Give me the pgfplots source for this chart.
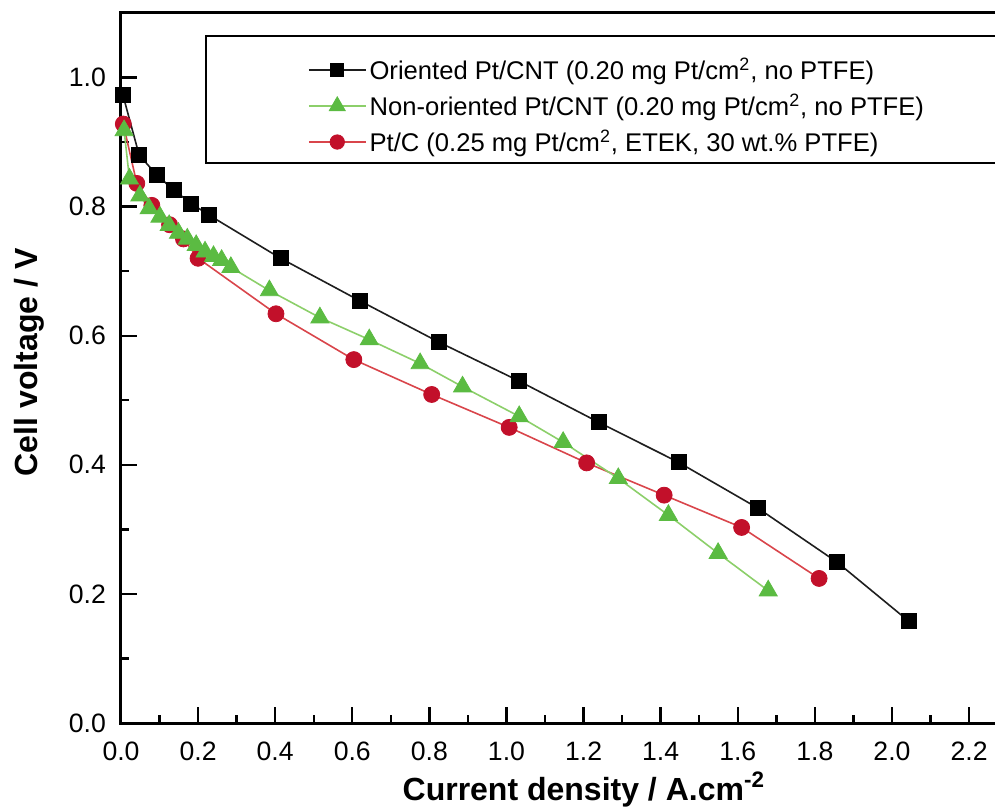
\documentclass[border=0pt]{standalone}
\usepackage{fontspec}
\setmainfont{Liberation Sans}
\usepackage{pgfplots}
\pgfplotsset{compat=1.18}
\definecolor{lineBlack}{HTML}{1E1E1E}
\definecolor{triGreen}{HTML}{5BBB42}
\definecolor{lineGreen}{HTML}{8CCF6A}
\definecolor{dotRed}{HTML}{C2102A}
\definecolor{lineRed}{HTML}{D9454B}

\begin{document}
\begin{tikzpicture}
% the reference is cropped on the right and at the bottom
\path[use as bounding box] (-60.5pt,-43.5pt) rectangle (437pt,361.5pt);
\clip (-60.5pt,-43.5pt) rectangle (437pt,361.5pt);
\begin{axis}[
  scale only axis, width=443.3pt, height=355pt,
  xmin=0, xmax=2.3, ymin=0, ymax=1.1,
  xtick={0,0.2,...,2.2}, ytick={0,0.2,...,1.0},
  minor x tick num=1, minor y tick num=1,
  xtick pos=bottom, ytick pos=left,
  tick align=inside,
  major tick length=8pt, minor tick length=4pt,
  tick style={black, line width=1.2pt},
  axis line style={black, line width=1.5pt},
  tick label style={font=\fontsize{13.3}{15}\selectfont},
  /pgf/number format/.cd, fixed, fixed zerofill, precision=1, assume math mode=true, /pgfplots/.cd,
  xticklabel style={yshift=-6pt},
  yticklabel style={xshift=-4pt},
  xlabel={Current density / A.cm\textsuperscript{-2}},
  ylabel={Cell voltage / V},
  xlabel style={font=\fontsize{16}{19}\selectfont\bfseries, at={(axis description cs:0.522,-0.1085)}, anchor=base},
  ylabel style={font=\fontsize{16}{19}\selectfont\bfseries, at={(axis description cs:-0.1032,0.508)}, anchor=center},
  clip=false,
  legend image code/.code={\draw[mark repeat=2,mark phase=2,#1] plot coordinates {(0pt,4.5pt) (14.25pt,4.5pt) (28.5pt,4.5pt)};},
  legend style={at={(axis description cs:0.0947,0.969)}, anchor=north west,
    draw=black, line width=1pt, fill=white,
    inner xsep=51pt, inner ysep=0pt,
    font=\fontsize{12.8}{15}\selectfont,
    cells={anchor=base west},
    nodes={inner xsep=1.5pt, inner ysep=3pt, text height=9pt, text depth=3pt}},
]
\addlegendimage{lineBlack, line width=0.8pt, mark=square*, mark size=3.3pt, mark options={fill=black, draw=black, line width=0.4pt}}
\addlegendentry[text height=18.5pt]{Oriented Pt/CNT (0.20 mg Pt/cm\textsuperscript{2}, no PTFE)}
\addlegendimage{lineGreen, line width=0.8pt, mark=triangle*, mark size=4.6pt, mark options={fill=triGreen, draw=triGreen, line width=0.4pt}}
\addlegendentry{Non-oriented Pt/CNT (0.20 mg Pt/cm\textsuperscript{2}, no PTFE)}
\addlegendimage{lineRed, line width=0.8pt, mark=*, mark size=3.6pt, mark options={fill=dotRed, draw=dotRed, line width=0.4pt}}
\addlegendentry{Pt/C (0.25 mg Pt/cm\textsuperscript{2}, ETEK, 30 wt.\% PTFE)}

% Oriented Pt/CNT
\addplot[forget plot, lineBlack, line width=0.8pt, mark=square*, mark size=3.75pt, mark options={fill=black, draw=black, line width=0.4pt}] coordinates {
  (0.005,0.973) (0.047,0.880) (0.093,0.849) (0.136,0.826) (0.182,0.805) (0.228,0.787)
  (0.414,0.720) (0.620,0.654) (0.825,0.590) (1.032,0.530) (1.239,0.466) (1.446,0.404)
  (1.652,0.333) (1.858,0.249) (2.043,0.158)
};
% Pt/C
\addplot[forget plot, lineRed, line width=0.8pt, mark=*, mark size=4pt, mark options={fill=dotRed, draw=dotRed, line width=0.4pt}] coordinates {
  (0.006,0.928) (0.041,0.836) (0.080,0.802) (0.126,0.772) (0.162,0.750) (0.200,0.720)
  (0.402,0.634) (0.604,0.563) (0.806,0.509) (1.007,0.458) (1.208,0.403) (1.409,0.353)
  (1.610,0.303) (1.811,0.224)
};
% Non-oriented Pt/CNT
\addplot[forget plot, lineGreen, line width=0.8pt, mark=triangle*, mark size=5.2pt, mark options={fill=triGreen, draw=triGreen, line width=0.4pt}] coordinates {
  (0.008,0.918) (0.022,0.843) (0.049,0.817) (0.073,0.797) (0.101,0.784) (0.125,0.771)
  (0.149,0.759) (0.172,0.750) (0.195,0.740) (0.218,0.730) (0.240,0.723) (0.261,0.717)
  (0.285,0.706) (0.385,0.670) (0.516,0.628) (0.644,0.594) (0.776,0.557) (0.886,0.521)
  (1.033,0.475) (1.147,0.435) (1.290,0.379) (1.420,0.322) (1.549,0.263) (1.679,0.205)
};
\end{axis}
\end{tikzpicture}
\end{document}
